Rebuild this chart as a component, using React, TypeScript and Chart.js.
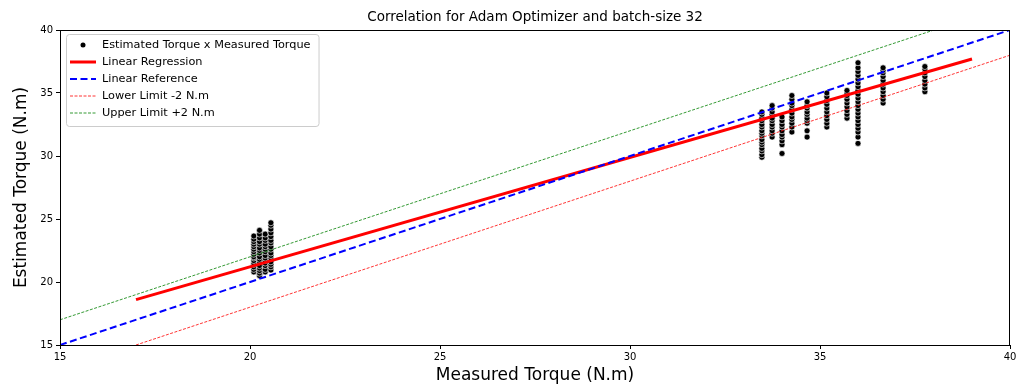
import React, { useEffect, useRef } from "react";
import { Chart, registerables } from "chart.js";

Chart.register(...registerables);

const chartTitle = "Correlation for Adam Optimizer and batch-size 32";
const xAxisTitle = "Measured Torque (N.m)";
const yAxisTitle = "Estimated Torque (N.m)";

const xTicks = [15, 20, 25, 30, 35, 40];
const yTicks = [15, 20, 25, 30, 35, 40];

// measured torque of each vertical column of points
const measuredCols = [20.1, 20.25, 20.4, 20.55, 33.47, 33.74, 34.0, 34.26, 34.66, 35.18, 35.71, 36.0, 36.66, 37.76];

// estimated torque values for each column
const estimatedCols = [
  [20.8, 21.0, 21.2, 21.4, 21.5, 21.7, 21.9, 22.0, 22.2, 22.4, 22.6, 22.8, 23.0, 23.2, 23.4, 23.65],
  [20.5, 20.7, 20.9, 21.1, 21.3, 21.6, 21.8, 22.0, 22.3, 22.5, 22.7, 23.0, 23.2, 23.5, 23.8, 24.1],
  [20.8, 21.0, 21.3, 21.5, 21.7, 21.9, 22.1, 22.4, 22.6, 22.8, 23.0, 23.3, 23.5, 23.8],
  [20.95, 21.2, 21.4, 21.6, 21.9, 22.1, 22.3, 22.6, 22.8, 23.1, 23.3, 23.6, 23.9, 24.2, 24.5, 24.7],
  [29.9, 30.1, 30.4, 30.6, 30.9, 31.1, 31.3, 31.6, 31.8, 32.0, 32.3, 32.5, 32.8, 33.0, 33.3, 33.5],
  [31.5, 31.8, 32.0, 32.3, 32.5, 32.8, 33.0, 33.3, 33.5, 33.8, 34.0],
  [30.2, 30.9, 31.2, 31.5, 31.7, 32.0, 32.3, 32.5, 32.8, 33.1],
  [31.9, 32.3, 32.6, 32.9, 33.1, 33.4, 33.7, 34.0, 34.2, 34.5, 34.8],
  [31.5, 32.0, 32.6, 32.8, 33.0, 33.3, 33.5, 33.8, 34.0, 34.3],
  [32.3, 32.6, 32.9, 33.2, 33.5, 33.8, 34.1, 34.4, 34.7, 35.0],
  [33.0, 33.3, 33.6, 33.9, 34.2, 34.5, 34.8, 35.0, 35.2],
  [31.0, 31.5, 31.9, 32.2, 32.5, 32.8, 33.1, 33.4, 33.7, 34.0, 34.3, 34.6, 34.9, 35.2, 35.5, 35.8, 36.1, 36.4, 36.7, 37.0, 37.4],
  [34.2, 34.5, 34.8, 35.1, 35.4, 35.7, 36.0, 36.3, 36.6, 36.8, 37.0],
  [35.1, 35.4, 35.7, 36.0, 36.3, 36.6, 36.9, 37.1],
];

const regressionX = [17, 39];
const regressionY = [18.6, 37.7];
const referenceX = [15, 40];
const referenceY = [15, 40];
const lowerX = [17, 40];
const lowerY = [15, 38];
const upperX = [15, 38];
const upperY = [17, 40];

const legendLabels = [
  "Estimated Torque x Measured Torque",
  "Linear Regression",
  "Linear Reference",
  "Lower Limit -2 N.m",
  "Upper Limit +2 N.m",
];

const FONT = "'DejaVu Sans', sans-serif";

const toXY = (xs: number[], ys: number[]) => xs.map((x, i) => ({ x, y: ys[i] }));

const decorPlugin = {
  id: "decor",
  afterDatasetsDraw(chart: any) {
    const { ctx, chartArea: a } = chart;
    ctx.save();
    // frame
    ctx.strokeStyle = "#000";
    ctx.lineWidth = 1;
    ctx.strokeRect(a.left + 0.5, a.top + 0.5, a.right - a.left - 1, a.bottom - a.top);
    // title
    ctx.fillStyle = "#000";
    ctx.textAlign = "center";
    ctx.textBaseline = "middle";
    ctx.font = `13.5px ${FONT}`;
    ctx.fillText(chartTitle, (a.left + a.right) / 2, 17);
    // axis titles
    ctx.font = `17px ${FONT}`;
    ctx.fillText(xAxisTitle, (a.left + a.right) / 2, 376);
    ctx.save();
    ctx.translate(22, (a.top + a.bottom) / 2);
    ctx.rotate(-Math.PI / 2);
    ctx.fillText(yAxisTitle, 0, 0);
    ctx.restore();

    // legend
    ctx.font = `11.3px ${FONT}`;
    const bx = a.left + 6;
    const by = a.top + 4;
    const textX = bx + 36;
    let maxW = 0;
    legendLabels.forEach((l) => (maxW = Math.max(maxW, ctx.measureText(l).width)));
    const bw = textX - bx + maxW + 8;
    const rowH = 17;
    const bh = rowH * legendLabels.length + 7;
    ctx.fillStyle = "rgba(255,255,255,0.85)";
    ctx.strokeStyle = "#cccccc";
    ctx.lineWidth = 1;
    ctx.beginPath();
    if ((ctx as any).roundRect) (ctx as any).roundRect(bx + 0.5, by + 0.5, bw, bh, 3);
    else ctx.rect(bx + 0.5, by + 0.5, bw, bh);
    ctx.fill();
    ctx.stroke();

    const ds = chart.data.datasets;
    legendLabels.forEach((label, i) => {
      const cy = by + 11 + i * rowH;
      const hx0 = bx + 4;
      const hx1 = bx + 30;
      if (i === 0) {
        ctx.fillStyle = "#000";
        ctx.beginPath();
        ctx.arc((hx0 + hx1) / 2, cy, 2.5, 0, Math.PI * 2);
        ctx.fill();
      } else {
        const d = ds[i];
        ctx.strokeStyle = d.borderColor;
        ctx.lineWidth = d.borderWidth;
        ctx.setLineDash(d.borderDash || []);
        ctx.beginPath();
        ctx.moveTo(hx0, cy);
        ctx.lineTo(hx1, cy);
        ctx.stroke();
        ctx.setLineDash([]);
      }
      ctx.fillStyle = "#000";
      ctx.textAlign = "left";
      ctx.textBaseline = "middle";
      ctx.fillText(label, textX, cy);
    });
    ctx.restore();
  },
};

export default function App() {
  const ref = useRef<HTMLCanvasElement | null>(null);

  useEffect(() => {
    document.body.style.margin = "0";
    const canvas = ref.current!;
    const points = measuredCols.flatMap((x, i) => estimatedCols[i].map((y) => ({ x, y })));

    const lineDs = (label: string, data: any, color: string, width: number, dash: number[], order: number) => ({
      type: "line" as const,
      label,
      data,
      showLine: true,
      borderColor: color,
      backgroundColor: color,
      borderWidth: width,
      borderDash: dash,
      pointRadius: 0,
      fill: false,
      order,
    });

    const chart = new Chart(canvas, {
      type: "scatter",
      data: {
        datasets: [
          {
            label: legendLabels[0],
            data: points,
            backgroundColor: "#000",
            borderColor: "rgba(255,255,255,0.9)",
            borderWidth: 0.7,
            pointRadius: 3,
            order: 10,
          } as any,
          lineDs(legendLabels[1], toXY(regressionX, regressionY), "#ff0000", 3, [], 4),
          lineDs(legendLabels[2], toXY(referenceX, referenceY), "#0000ff", 2, [7, 3.5], 3),
          lineDs(legendLabels[3], toXY(lowerX, lowerY), "#ff0000", 0.8, [3, 1.5], 2),
          lineDs(legendLabels[4], toXY(upperX, upperY), "#008000", 0.8, [3, 1.5], 1),
        ],
      },
      options: {
        animation: false,
        responsive: false,
        devicePixelRatio: 1,
        layout: { padding: { top: 30, right: 16, left: 0, bottom: 0 } },
        plugins: { legend: { display: false }, title: { display: false }, tooltip: { enabled: false } },
        scales: {
          x: {
            type: "linear",
            min: 15,
            max: 40,
            afterBuildTicks: (s: any) => {
              s.ticks = xTicks.map((v) => ({ value: v }));
            },
            afterFit: (s: any) => {
              s.height = 42;
            },
            ticks: { color: "#000", font: { size: 10, family: FONT }, padding: 2, maxRotation: 0 },
            grid: { display: true, drawOnChartArea: false, drawTicks: true, tickLength: 4, color: "#000" },
            border: { display: true, color: "#000" },
          },
          y: {
            type: "linear",
            min: 15,
            max: 40,
            afterBuildTicks: (s: any) => {
              s.ticks = yTicks.map((v) => ({ value: v }));
            },
            afterFit: (s: any) => {
              s.width = 60;
            },
            ticks: { color: "#000", font: { size: 10, family: FONT }, padding: 3 },
            grid: { display: true, drawOnChartArea: false, drawTicks: true, tickLength: 4, color: "#000" },
            border: { display: true, color: "#000" },
          },
        },
      },
      plugins: [decorPlugin],
    } as any);
    return () => chart.destroy();
  }, []);

  return (
    <div style={{ width: 1026, height: 387 }}>
      <canvas ref={ref} width={1026} height={387} style={{ display: "block", width: 1026, height: 387 }} />
    </div>
  );
}
